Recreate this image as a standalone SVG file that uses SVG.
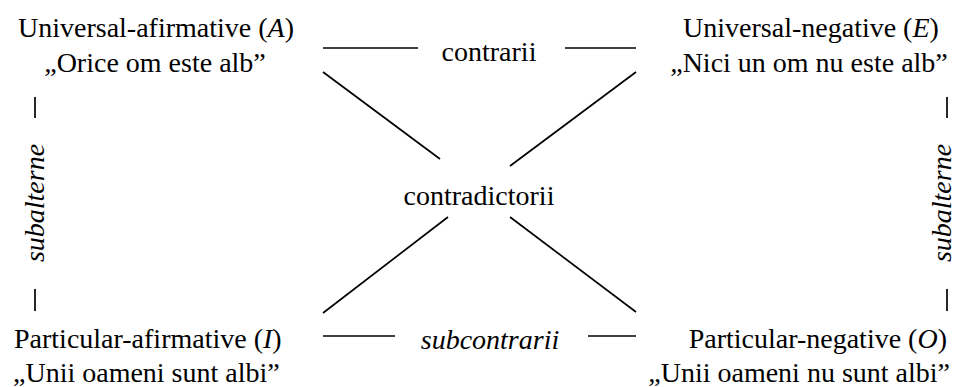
<svg xmlns="http://www.w3.org/2000/svg" width="974" height="387" viewBox="0 0 974 387" font-family="'Liberation Serif', 'Times New Roman', Tinos, 'DejaVu Serif', serif">
<style>
text{font-family:"Liberation Serif","Times New Roman",Tinos,"DejaVu Serif",serif;font-size:28px;fill:#000}
.i{font-style:italic}
.c{text-anchor:middle}
.e{text-anchor:end}
line{stroke:#000;stroke-width:1.7}
</style>
<rect width="974" height="387" fill="#fff"/>
<g id="nodeA">
<text class="c" x="156" y="37">Universal-afirmative (<tspan class="i">A</tspan>)</text>
<text class="c" x="155" y="72">„Orice om este alb”</text>
</g>
<g id="nodeE">
<text class="c" x="811" y="37">Universal-negative (<tspan class="i">E</tspan>)</text>
<text class="c" x="809" y="72">„Nici un om nu este alb”</text>
</g>
<g id="nodeI">
<text x="14" y="348">Particular-afirmative (<tspan class="i">I</tspan>)</text>
<text x="13" y="382">„Unii oameni sunt albi”</text>
</g>
<g id="nodeO">
<text class="e" x="947" y="348">Particular-negative (<tspan class="i">O</tspan>)</text>
<text class="e" x="950" y="382">„Unii oameni nu sunt albi”</text>
</g>
<g id="connectors">
<line x1="323" y1="48" x2="418" y2="48"/>
<line x1="565" y1="48" x2="636" y2="48"/>
<line x1="323" y1="336" x2="395" y2="336"/>
<line x1="588" y1="336" x2="636" y2="336"/>
<line x1="323" y1="72" x2="440" y2="159"/>
<line x1="636" y1="72" x2="510" y2="166"/>
<line x1="323" y1="313" x2="448" y2="217"/>
<line x1="636" y1="312" x2="510" y2="217"/>
<line x1="35" y1="97" x2="35" y2="118"/>
<line x1="35" y1="289" x2="35" y2="311"/>
<line x1="947" y1="97" x2="947" y2="118"/>
<line x1="947" y1="289" x2="947" y2="311"/>
</g>
<g id="labels">
<text class="c" x="489" y="61">contrarii</text>
<text class="c" x="479" y="205">contradictorii</text>
<text class="c i" x="490" y="349">subcontrarii</text>
<text class="c i" transform="translate(44 203) rotate(-90)">subalterne</text>
<text class="c i" transform="translate(951 203) rotate(-90)">subalterne</text>
</g>
</svg>
